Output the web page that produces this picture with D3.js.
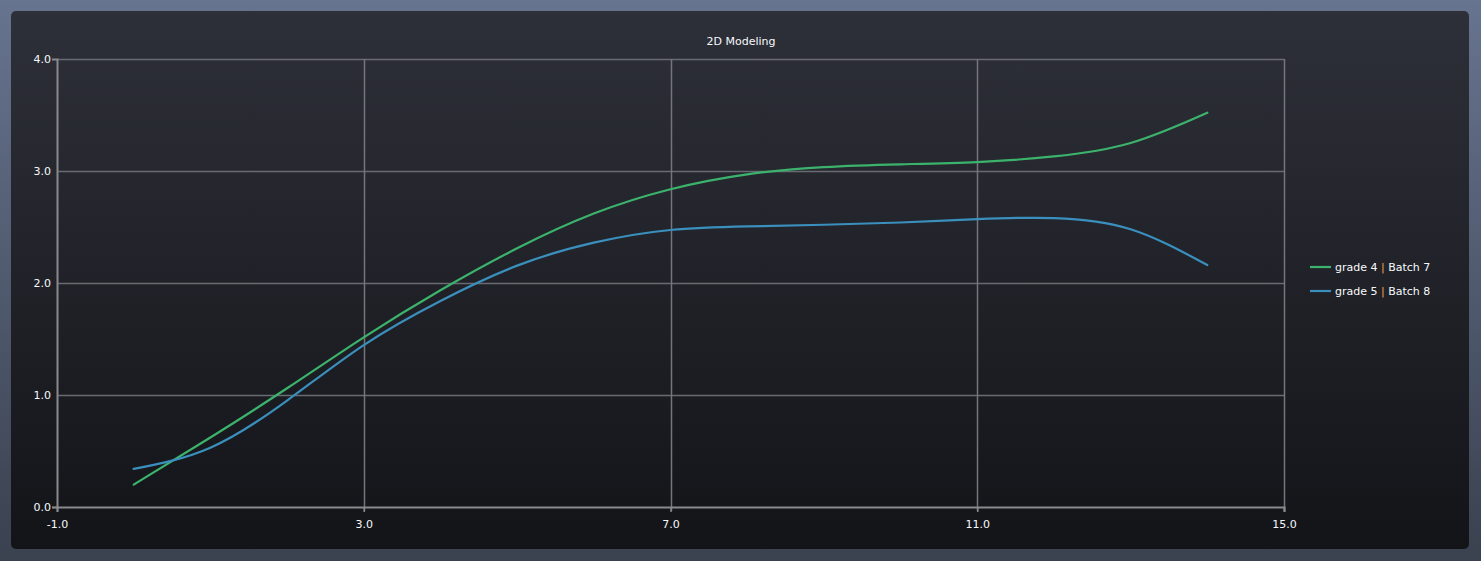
<!DOCTYPE html>
<html>
<head>
<meta charset="utf-8">
<script src="https://cdn.jsdelivr.net/npm/d3@7"></script>
<style>
  html, body { margin: 0; padding: 0; background: #4f5870; }
  svg { display: block; }
  text { font-family: "DejaVu Sans", sans-serif; }
</style>
</head>
<body>
<script>
// ---- data ----
const title = "2D Modeling";
const xValues = [0, 1, 2, 3, 4, 5, 6, 7, 8, 9, 10, 11, 12, 13, 14];
const grade4Batch7 = [0.20, 0.62, 1.06, 1.515, 1.935, 2.31, 2.62, 2.837, 2.97, 3.035, 3.06, 3.08, 3.13, 3.25, 3.52];
const grade5Batch8 = [0.34, 0.53, 0.95, 1.446, 1.84, 2.155, 2.36, 2.473, 2.505, 2.52, 2.54, 2.57, 2.58, 2.48, 2.16];
const seriesNames = [["grade 4", "Batch 7"], ["grade 5", "Batch 8"]];
const xTicks = [-1, 3, 7, 11, 15];
const yTicks = [0, 1, 2, 3, 4];

const W = 1481, H = 561;
const svg = d3.select("body").append("svg").attr("width", W).attr("height", H);
const defs = svg.append("defs");

const bg = defs.append("linearGradient").attr("id", "bg").attr("x1", 0).attr("y1", 0).attr("x2", 0).attr("y2", 1);
bg.append("stop").attr("offset", "0%").attr("stop-color", "#67748f");
bg.append("stop").attr("offset", "100%").attr("stop-color", "#3a414f");
const pg = defs.append("linearGradient").attr("id", "pg").attr("x1", 0).attr("y1", 0).attr("x2", 0).attr("y2", 1);
pg.append("stop").attr("offset", "0%").attr("stop-color", "#2e3039");
pg.append("stop").attr("offset", "100%").attr("stop-color", "#131418");

svg.append("rect").attr("width", W).attr("height", H).attr("fill", "url(#bg)");
svg.append("rect").attr("x", 11).attr("y", 11).attr("width", 1458).attr("height", 538)
  .attr("rx", 5).attr("fill", "url(#pg)");

const x = d3.scaleLinear().domain([-1, 15]).range([57, 1284]);
const y = d3.scaleLinear().domain([0, 4]).range([507, 59]);

// title
svg.append("text").attr("x", 741).attr("y", 45).attr("text-anchor", "middle")
  .attr("fill", "#f7f9fc").attr("font-size", 11).text(title);

// grid
const grid = svg.append("g");
grid.selectAll("line.h").data(yTicks.filter(d => d > 0)).join("line")
  .attr("x1", x(-1)).attr("x2", x(15)).attr("y1", d => Math.round(y(d)) + 0.5).attr("y2", d => Math.round(y(d)) + 0.5)
  .attr("stroke", "#6a6b72").attr("stroke-width", 1.5);
grid.selectAll("line.v").data(xTicks.filter(d => d > -1)).join("line")
  .attr("y1", y(4)).attr("y2", y(0) + 4).attr("x1", d => Math.round(x(d)) + 0.5).attr("x2", d => Math.round(x(d)) + 0.5)
  .attr("stroke", "#75767c").attr("stroke-width", 1.5);

// axes
const fmt = d => d.toFixed(1);
const xAxis = svg.append("g").attr("transform", `translate(0,${y(0)})`)
  .call(d3.axisBottom(x).tickValues(xTicks).tickFormat(fmt).tickSize(5).tickPadding(6));
const yAxis = svg.append("g").attr("transform", `translate(${x(-1)},0)`)
  .call(d3.axisLeft(y).tickValues(yTicks).tickFormat(fmt).tickSize(5).tickPadding(1));
[xAxis, yAxis].forEach(a => {
  a.select(".domain").attr("stroke", "#8a8a8e").attr("stroke-width", 2);
  a.selectAll(".tick line").attr("stroke", "#8a8a8e").attr("stroke-width", 1.5);
  a.selectAll(".tick text").attr("fill", "#f7f9fc").attr("font-size", 11)
    .attr("font-family", "DejaVu Sans, sans-serif");
});
yAxis.selectAll(".tick line").filter(d => d !== 0).remove();
xAxis.selectAll(".tick text").attr("dy", "0.9em");

// lines
const colors = ["#3cb36c", "#3a8fbd"];
const series = [grade4Batch7, grade5Batch8];
const line = d3.line().x((d, i) => x(xValues[i])).y(d => y(d)).curve(d3.curveNatural);
series.forEach((s, k) => {
  svg.append("path").datum(s).attr("d", line).attr("fill", "none")
    .attr("stroke", colors[k]).attr("stroke-width", 2.2).attr("stroke-linecap", "round");
});

// legend
const leg = svg.append("g");
seriesNames.forEach((nm, k) => {
  const ly = 267 + k * 24;
  leg.append("line").attr("x1", 1310).attr("x2", 1331).attr("y1", ly).attr("y2", ly)
    .attr("stroke", colors[k]).attr("stroke-width", 2.2);
  const t = leg.append("text").attr("x", 1335).attr("y", ly + 4).attr("font-size", 11).attr("fill", "#f7f9fc");
  t.append("tspan").text(nm[0] + " ");
  t.append("tspan").attr("fill", "#f0a040").text("|");
  t.append("tspan").text(" " + nm[1]);
});
</script>
</body>
</html>
